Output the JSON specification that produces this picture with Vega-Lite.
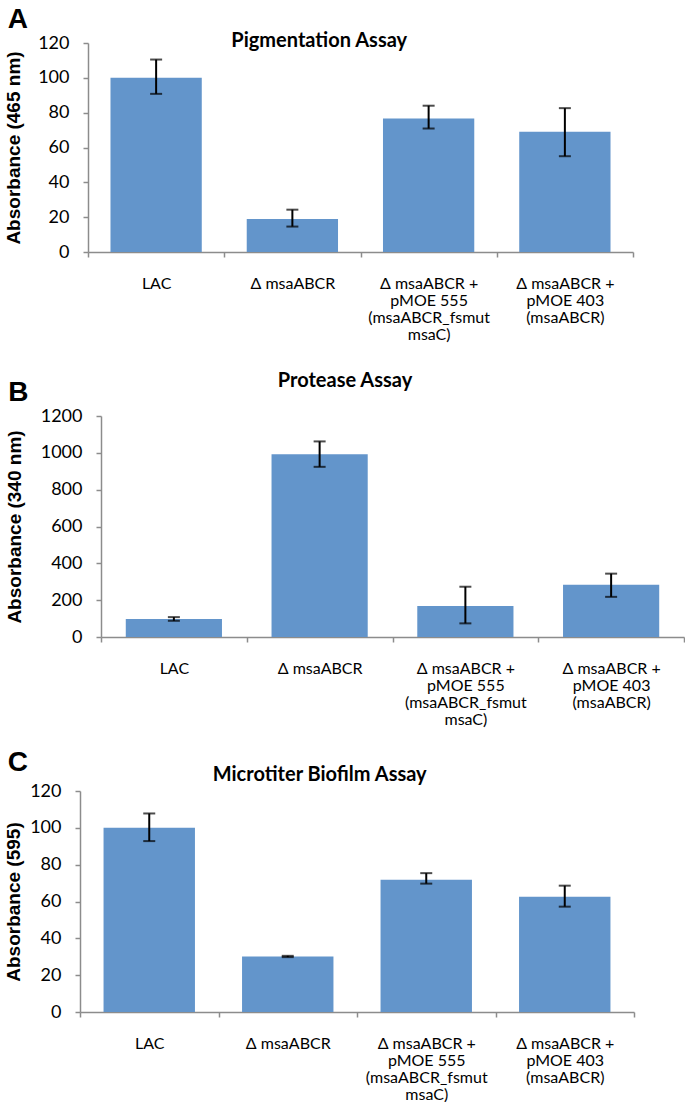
{
  "$schema": "https://vega.github.io/schema/vega-lite/v6.json",
  "padding": {"left": 4, "top": 6, "right": 0, "bottom": 0},
  "background": "white",
  "align": "none",
  "spacing": 22,
  "datasets": {
    "pig": [
      {"cat": "LAC", "value": 100, "lo": 90.8, "hi": 110.5},
      {"cat": "Δ msaABCR", "value": 19, "lo": 14.6, "hi": 24.3},
      {"cat": "Δ msaABCR +\npMOE 555\n(msaABCR_fsmut\nmsaC)", "value": 76.6, "lo": 70.9, "hi": 84},
      {"cat": "Δ msaABCR +\npMOE 403\n(msaABCR)", "value": 69, "lo": 55, "hi": 82.6}
    ],
    "prot": [
      {"cat": "LAC", "value": 98, "lo": 88, "hi": 108},
      {"cat": "Δ msaABCR", "value": 992, "lo": 924, "hi": 1062},
      {"cat": "Δ msaABCR +\npMOE 555\n(msaABCR_fsmut\nmsaC)", "value": 168, "lo": 74, "hi": 273},
      {"cat": "Δ msaABCR +\npMOE 403\n(msaABCR)", "value": 284, "lo": 218, "hi": 344}
    ],
    "bio": [
      {"cat": "LAC", "value": 100, "lo": 92.8, "hi": 107.8},
      {"cat": "Δ msaABCR", "value": 30.1, "lo": 29.8, "hi": 30.5},
      {"cat": "Δ msaABCR +\npMOE 555\n(msaABCR_fsmut\nmsaC)", "value": 71.8, "lo": 69.7, "hi": 75.4},
      {"cat": "Δ msaABCR +\npMOE 403\n(msaABCR)", "value": 62.6, "lo": 57.2, "hi": 68.6}
    ]
  },
  "config": {
    "view": {"stroke": null},
    "axis": {
      "domainColor": "#8c8c8c", "tickColor": "#8c8c8c", "domainWidth": 1.5, "tickWidth": 1.5,
      "grid": false, "labelColor": "#000000", "titleColor": "#000000"
    },
    "axisX": {
      "labelFont": "Lato", "labelFontSize": 16, "labelLineHeight": 17, "labelAngle": 0,
      "labelPadding": 18, "tickSize": 5, "tickBand": "extent", "title": null, "labelLimit": 200
    },
    "axisY": {
      "labelFont": "Lato", "labelFontSize": 18, "labelPadding": 14, "tickSize": 5,
      "titleFont": "Liberation Sans", "titleFontSize": 19, "titleFontWeight": "bold"
    },
    "title": {"color": "#000000"}
  },
  "vconcat": [
    {
      "align": "none",
      "spacing": 29,
      "vconcat": [
        {
          "title": {"text": "A", "anchor": "start", "frame": "bounds", "font": "Liberation Sans", "fontSize": 28, "fontWeight": "bold", "offset": -3, "dx": 3},
          "vconcat": [
            {
              "title": {"text": "Pigmentation Assay", "font": "Lato", "fontSize": 20, "fontWeight": "bold", "frame": "bounds", "anchor": "middle", "offset": -17},
              "width": 553, "height": 209,
              "data": {"name": "pig"},
              "encoding": {
                "x": {"field": "cat", "type": "nominal", "sort": null, "scale": {"paddingInner": 0, "paddingOuter": 0, "rangeMin": 8},
                      "axis": {"labelExpr": "split(datum.label, '\\n')"}}
              },
              "layer": [
                {"mark": {"type": "bar", "width": {"band": 0.67}, "color": "#6395CB"},
                 "encoding": {"y": {"field": "value", "type": "quantitative", "title": "Absorbance (465 nm)", "scale": {"domain": [0, 120]},
                   "axis": {"values": [0, 20, 40, 60, 80, 100, 120], "format": "d", "titlePadding": 14, "offset": -8}}}},
                {"mark": {"type": "rule", "color": "#000000", "strokeWidth": 2},
                 "encoding": {"y": {"field": "lo", "type": "quantitative", "title": "Absorbance (465 nm)", "scale": {"domain": [0, 120]},
                   "axis": {"values": [0, 20, 40, 60, 80, 100, 120], "format": "d", "titlePadding": 14, "offset": -8}}, "y2": {"field": "hi"}}},
                {"mark": {"type": "tick", "color": "#000000", "thickness": 2, "size": 12},
                 "encoding": {"y": {"field": "lo", "type": "quantitative", "title": "Absorbance (465 nm)", "scale": {"domain": [0, 120]},
                   "axis": {"values": [0, 20, 40, 60, 80, 100, 120], "format": "d", "titlePadding": 14, "offset": -8}}}},
                {"mark": {"type": "tick", "color": "#000000", "thickness": 2, "size": 12},
                 "encoding": {"y": {"field": "hi", "type": "quantitative", "title": "Absorbance (465 nm)", "scale": {"domain": [0, 120]},
                   "axis": {"values": [0, 20, 40, 60, 80, 100, 120], "format": "d", "titlePadding": 14, "offset": -8}}}}
              ]
            }
          ]
        },
        {
          "title": {"text": "B", "anchor": "start", "frame": "bounds", "font": "Liberation Sans", "fontSize": 28, "fontWeight": "bold", "offset": -36, "dx": 3},
          "vconcat": [
            {
              "title": {"text": "Protease Assay", "font": "Lato", "fontSize": 20, "fontWeight": "bold", "frame": "bounds", "anchor": "middle", "offset": 16},
              "width": 604, "height": 221,
              "data": {"name": "prot"},
              "encoding": {
                "x": {"field": "cat", "type": "nominal", "sort": null, "scale": {"paddingInner": 0, "paddingOuter": 0, "rangeMin": 21},
                      "axis": {"labelExpr": "split(datum.label, '\\n')"}}
              },
              "layer": [
                {"mark": {"type": "bar", "width": {"band": 0.66}, "color": "#6395CB"},
                 "encoding": {"y": {"field": "value", "type": "quantitative", "title": "Absorbance (340 nm)", "scale": {"domain": [0, 1200]},
                   "axis": {"values": [0, 200, 400, 600, 800, 1000, 1200], "format": "d", "titlePadding": 16, "offset": -21}}}},
                {"mark": {"type": "rule", "color": "#000000", "strokeWidth": 2},
                 "encoding": {"y": {"field": "lo", "type": "quantitative", "title": "Absorbance (340 nm)", "scale": {"domain": [0, 1200]},
                   "axis": {"values": [0, 200, 400, 600, 800, 1000, 1200], "format": "d", "titlePadding": 16, "offset": -21}}, "y2": {"field": "hi"}}},
                {"mark": {"type": "tick", "color": "#000000", "thickness": 2, "size": 12},
                 "encoding": {"y": {"field": "lo", "type": "quantitative", "title": "Absorbance (340 nm)", "scale": {"domain": [0, 1200]},
                   "axis": {"values": [0, 200, 400, 600, 800, 1000, 1200], "format": "d", "titlePadding": 16, "offset": -21}}}},
                {"mark": {"type": "tick", "color": "#000000", "thickness": 2, "size": 12},
                 "encoding": {"y": {"field": "hi", "type": "quantitative", "title": "Absorbance (340 nm)", "scale": {"domain": [0, 1200]},
                   "axis": {"values": [0, 200, 400, 600, 800, 1000, 1200], "format": "d", "titlePadding": 16, "offset": -21}}}}
              ]
            }
          ]
        }
      ]
    },
    {
      "title": {"text": "C", "anchor": "start", "frame": "bounds", "font": "Liberation Sans", "fontSize": 28, "fontWeight": "bold", "offset": -12, "dx": 3},
      "vconcat": [
        {
          "title": {"text": "Microtiter Biofilm Assay", "font": "Lato", "fontSize": 20, "fontWeight": "bold", "frame": "bounds", "anchor": "middle", "offset": -3},
          "width": 554, "height": 221,
          "data": {"name": "bio"},
          "encoding": {
            "x": {"field": "cat", "type": "nominal", "sort": null, "scale": {"paddingInner": 0, "paddingOuter": 0},
                  "axis": {"labelExpr": "split(datum.label, '\\n')"}}
          },
          "layer": [
            {"mark": {"type": "bar", "width": {"band": 0.66}, "color": "#6395CB"},
             "encoding": {"y": {"field": "value", "type": "quantitative", "title": "Absorbance (595)", "scale": {"domain": [0, 120]},
               "axis": {"values": [0, 20, 40, 60, 80, 100, 120], "format": "d", "titlePadding": 6}}}},
            {"mark": {"type": "rule", "color": "#000000", "strokeWidth": 2},
             "encoding": {"y": {"field": "lo", "type": "quantitative", "title": "Absorbance (595)", "scale": {"domain": [0, 120]},
               "axis": {"values": [0, 20, 40, 60, 80, 100, 120], "format": "d", "titlePadding": 6}}, "y2": {"field": "hi"}}},
            {"mark": {"type": "tick", "color": "#000000", "thickness": 2, "size": 12},
             "encoding": {"y": {"field": "lo", "type": "quantitative", "title": "Absorbance (595)", "scale": {"domain": [0, 120]},
               "axis": {"values": [0, 20, 40, 60, 80, 100, 120], "format": "d", "titlePadding": 6}}}},
            {"mark": {"type": "tick", "color": "#000000", "thickness": 2, "size": 12},
             "encoding": {"y": {"field": "hi", "type": "quantitative", "title": "Absorbance (595)", "scale": {"domain": [0, 120]},
               "axis": {"values": [0, 20, 40, 60, 80, 100, 120], "format": "d", "titlePadding": 6}}}}
          ]
        }
      ]
    }
  ]
}
